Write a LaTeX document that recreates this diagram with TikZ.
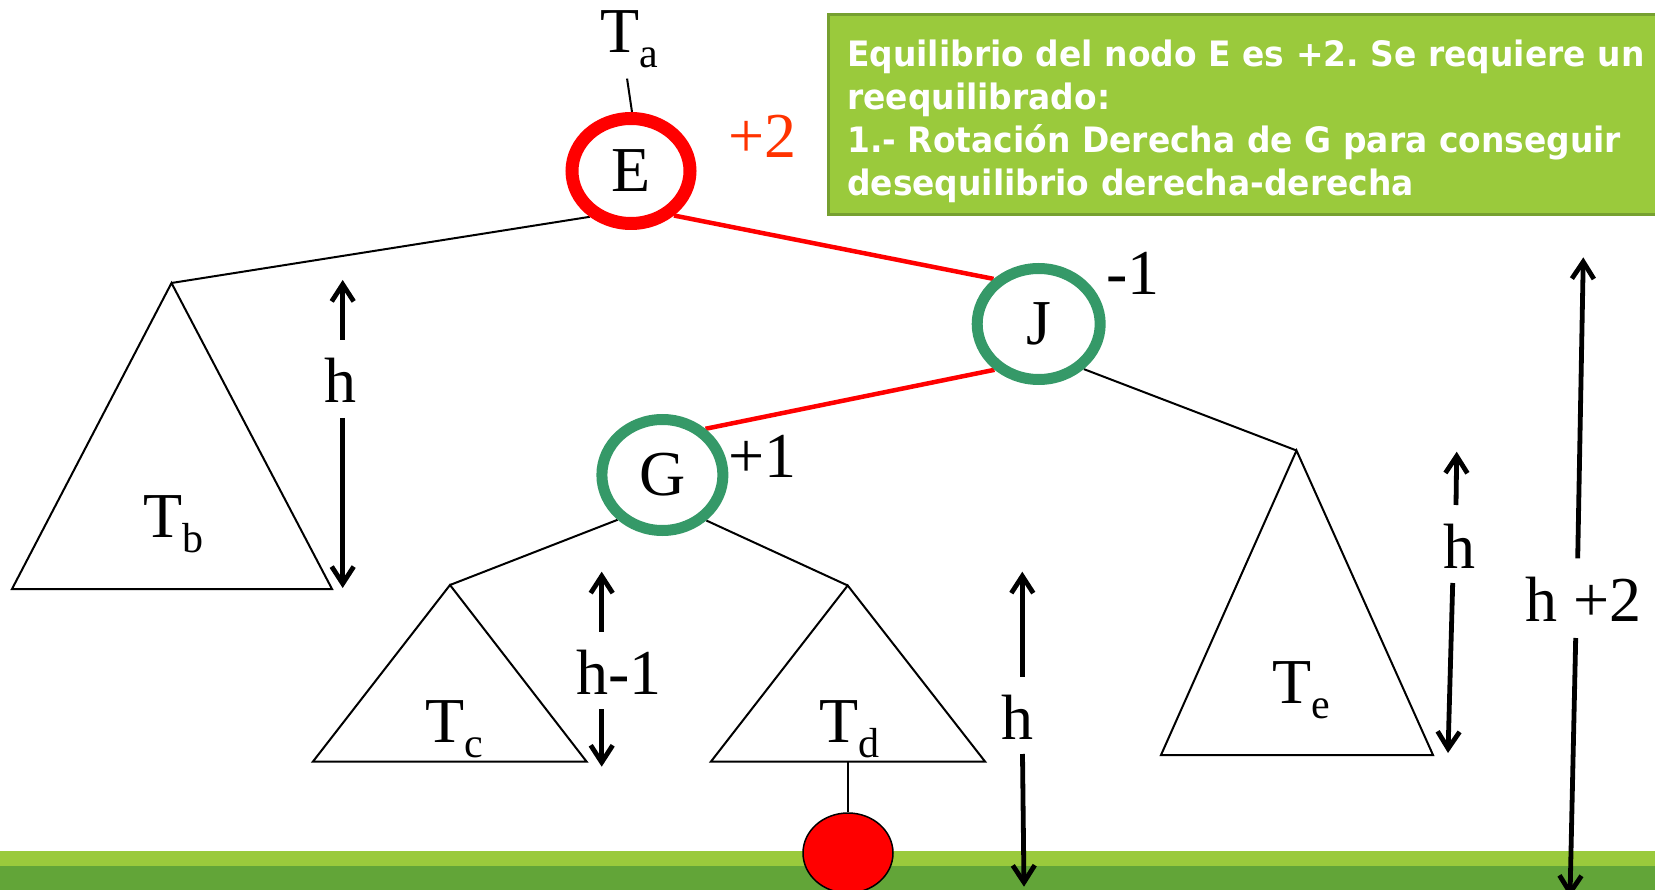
\documentclass[tikz,border=0pt]{standalone}
\usepackage{fontspec}
\setmainfont{Liberation Serif}
\newfontfamily\boxfont{DejaVu Sans}[FakeStretch=0.94]
\usetikzlibrary{arrows.meta,shapes.geometric}
\pgfdeclarelayer{edges}
\pgfsetlayers{edges,main}
\definecolor{barlight}{RGB}{154,202,60}
\definecolor{bardark}{RGB}{98,165,56}
\definecolor{boxfill}{RGB}{154,202,60}
\definecolor{boxline}{RGB}{118,160,48}
\definecolor{avlgreen}{RGB}{53,153,104}
\definecolor{balred}{RGB}{255,51,0}
\newcommand{\Tsub}[1]{T\raisebox{-15pt}{\fontsize{42}{42}\selectfont #1}}
\tikzset{
  avl/.style={ellipse, fill=white, inner sep=0pt, font=\fontsize{64}{64}\selectfont},
  lbl/.style={inner sep=0pt, font=\fontsize{64}{64}\selectfont},
  treeline/.style={line width=2pt, black},
  redline/.style={line width=4.5pt, red},
  subtree/.style={line width=2pt, black, line join=miter},
  dimarrow/.style={line width=4.8pt, -{Straight Barb[length=17pt,width=22pt]}},
  notebox/.style={fill=boxfill, draw=boxline, line width=3pt},
  notetext/.style={inner sep=0pt, anchor=north west, text=white, text width=820pt, align=left,
    font=\boxfont\bfseries\frenchspacing\fontsize{35}{43}\selectfont},
}
\begin{document}
\begin{tikzpicture}[x=1pt,y=-1pt]
\useasboundingbox (0,0) rectangle (1655,890);
\clip (0,0) rectangle (1655,890);

% bottom bars
\fill[barlight] (0,851) rectangle (1655,866);
\fill[bardark] (0,866) rectangle (1655,890);

% note box
\draw[notebox] (828,15) rectangle (1690,215);
\node[notetext] (note) at (847,40) {Equilibrio del nodo E es +2. Se requiere un\\
reequilibrado:\\
1.- Rotación Derecha de G para conseguir\\
desequilibrio derecha-derecha};

% tree nodes
\node[avl, draw=red, line width=13pt, minimum width=118pt, minimum height=105pt] (E) at (631,171) {E};
\node[avl, draw=avlgreen, line width=11pt, minimum width=123pt, minimum height=111pt] (J) at (1038.7,324) {J};
\node[avl, draw=avlgreen, line width=11pt, minimum width=121pt, minimum height=111pt] (G) at (662.4,475) {G};

% labels
\node[lbl, anchor=base west] (Ta) at (600,53) {\Tsub{a}};
\node[lbl, anchor=base west, text=balred] (bE) at (728,158) {+2};
\node[lbl, anchor=base west] (bJ) at (1106,295) {-1};
\node[lbl, anchor=base west] (bG) at (728,477) {+1};

% subtrees
\coordinate (tbA) at (171.5,283);  \coordinate (tbL) at (12,589);    \coordinate (tbR) at (332,589);
\coordinate (tcA) at (450,585);    \coordinate (tcL) at (313,761.5); \coordinate (tcR) at (586.5,761.5);
\coordinate (tdA) at (847.7,585.5);\coordinate (tdL) at (711,761.5); \coordinate (tdR) at (985,761.5);
\coordinate (teA) at (1296.5,450.5);\coordinate (teL) at (1161,755); \coordinate (teR) at (1433,755);
\draw[subtree] (tbA) -- (tbL) -- (tbR) -- cycle;
\draw[subtree] (tcA) -- (tcL) -- (tcR) -- cycle;
\draw[subtree] (tdA) -- (tdL) -- (tdR) -- cycle;
\draw[subtree] (teA) -- (teL) -- (teR) -- cycle;
\node[lbl, anchor=base west] (Tb) at (143,537) {\Tsub{b}};
\node[lbl, anchor=base west] (Tc) at (425,742) {\Tsub{c}};
\node[lbl, anchor=base west] (Td) at (819,742) {\Tsub{d}};
\node[lbl, anchor=base west] (Te) at (1272,703) {\Tsub{e}};

% inserted node
\node[ellipse, fill=red, draw=black, line width=1.5pt, minimum width=90pt, minimum height=80pt, inner sep=0pt] (ins) at (848,853) {};
\draw[treeline] (ins.north) -- (ins.north |- tdL);

% edges
\begin{pgfonlayer}{edges}
\draw[treeline] ([shift={(-2pt,-10pt)}]Ta.south) -- ([xshift=1pt]E.north);
\draw[treeline] (E.228) -- (tbA);
\draw[redline] (E.-46) -- (J.135);
\draw[redline] (J.226) -- (G.47);
\draw[treeline] (J.-45) -- (teA);
\draw[treeline] (G.225) -- (tcA);
\draw[treeline] (G.-46.5) -- (tdA);
\end{pgfonlayer}

% height labels and arrows
\node[lbl, anchor=base] (hL) at (340,403) {h};
\node[lbl, anchor=base west] (hc) at (576,694) {h-1};
\node[lbl, anchor=base west] (hd) at (1001,739) {h};
\node[lbl, anchor=base west] (he) at (1443,568) {h};
\node[lbl, anchor=base west] (hp) at (1525,621) {h +2};

\coordinate (hLa) at (342.7,340);  \coordinate (hLu) at (342.7,280);
\coordinate (hLb) at (342.7,418);  \coordinate (hLd) at (342.7,588);
\coordinate (hca) at (601.7,631.7);\coordinate (hcu) at (601.7,571.7);
\coordinate (hcb) at (601.7,709);  \coordinate (hcd) at (601.7,766.7);
\coordinate (hda) at (1022.3,676.7);\coordinate (hdu) at (1022.3,571.7);
\coordinate (hdb) at (1022.5,754); \coordinate (hdd) at (1024,886.7);
\coordinate (hea) at (1456,505);   \coordinate (heu) at (1456.7,451.7);
\coordinate (heb) at (1452.7,583); \coordinate (hed) at (1448,753);
\coordinate (hpa) at (1577.7,558.3);\coordinate (hpu) at (1583.3,257.4);
\coordinate (hpb) at (1575.7,638); \coordinate (hpd) at (1570,897);
\draw[dimarrow] (hLa) -- (hLu);
\draw[dimarrow] (hLb) -- (hLd);
\draw[dimarrow] (hca) -- (hcu);
\draw[dimarrow] (hcb) -- (hcd);
\draw[dimarrow] (hda) -- (hdu);
\draw[dimarrow] (hdb) -- (hdd);
\draw[dimarrow] (hea) -- (heu);
\draw[dimarrow] (heb) -- (hed);
\draw[dimarrow] (hpa) -- (hpu);
\draw[dimarrow] (hpb) -- (hpd);
\end{tikzpicture}
\end{document}
